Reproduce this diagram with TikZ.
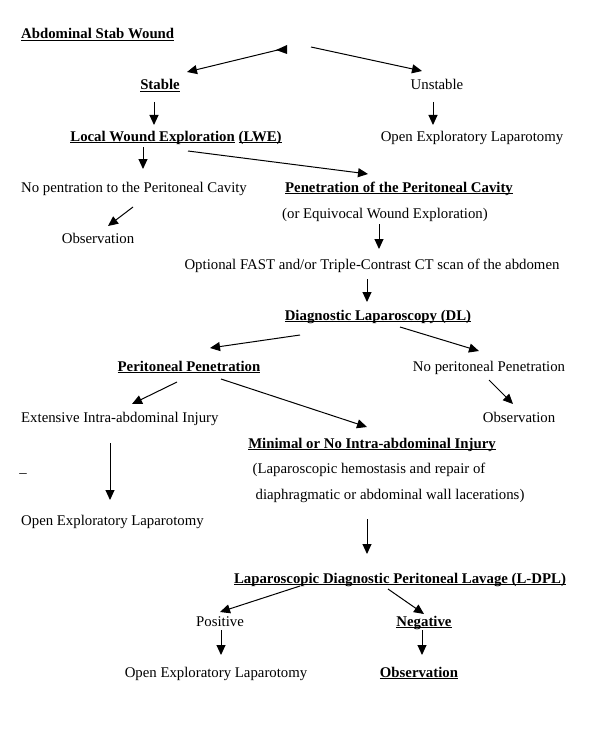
\documentclass[tikz,border=0pt]{standalone}
\usepackage{fontspec}
\setmainfont{Liberation Serif}
\usetikzlibrary{arrows.meta}
\newcommand\myul[1]{\setbox0\hbox{#1}\rlap{\rule[-2.3pt]{\wd0}{0.9pt}}\box0\relax}
\tikzset{
  txt/.style={inner sep=0pt, anchor=base, font=\fontsize{14.8}{17}\selectfont},
  ltxt/.style={txt, anchor=base west},
  btxt/.style={txt, font=\fontsize{14.8}{17}\selectfont\bfseries},
  bltxt/.style={btxt, anchor=base west},
  arr/.style={line width=1pt, -{Triangle[length=10pt,width=9pt]}},
}
\begin{document}
\begin{tikzpicture}[x=1pt,y=-1pt]
\useasboundingbox (0,0) rectangle (600,733);
% texts
\node[bltxt] (asw) at (21,39) {\myul{Abdominal Stab Wound}};
\node[btxt] (stable) at (160,90) {\myul{Stable}};
\node[txt] (unstable) at (437,90) {Unstable};
\node[btxt] (lwe) at (176,141) {\myul{Local Wound Exploration} \myul{(LWE)}};
\node[txt] (oel1) at (472,141) {Open Exploratory Laparotomy};
\node[ltxt] (nopen) at (21,192) {No pentration to the Peritoneal Cavity};
\node[btxt] (pen) at (399,192) {\myul{Penetration of the Peritoneal Cavity}};
\node[txt] (equiv) at (385,218) {(or Equivocal Wound Exploration)};
\node[txt] (obs1) at (98,243) {Observation};
\node[txt] (fast) at (372,269) {Optional FAST and/or Triple-Contrast CT scan of the abdomen};
\node[btxt] (dl) at (378,320) {\myul{Diagnostic Laparoscopy (DL)}};
\node[btxt] (ppen) at (189,371) {\myul{Peritoneal Penetration}};
\node[txt] (noppen) at (489,371) {No peritoneal Penetration};
\node[ltxt] (ext) at (21,422) {Extensive Intra-abdominal Injury};
\node[txt] (obs2) at (519,422) {Observation};
\node[btxt] (minimal) at (372,448) {\myul{Minimal or No Intra-abdominal Injury}};
\node[txt] (dash) at (23,477) {\textendash};
\node[txt] (lap1) at (369,473) {(Laparoscopic hemostasis and repair of};
\node[txt] (lap2) at (390,499) {diaphragmatic or abdominal wall lacerations)};
\node[ltxt] (oel2) at (21,525) {Open Exploratory Laparotomy};
\node[btxt] (ldpl) at (400,583) {\myul{Laparoscopic Diagnostic Peritoneal Lavage (L-DPL)}};
\node[txt] (pos) at (220,626) {Positive};
\node[btxt] (neg) at (424,626) {\myul{Negative}};
\node[txt] (oel3) at (216,677) {Open Exploratory Laparotomy};
\node[btxt] (obs3) at (419,677) {\myul{Observation}};
% connector end points
\coordinate (a1s) at (286,48);
\coordinate (a1e) at (187,72);
\coordinate (a2s) at (311,47);
\coordinate (a2e) at (422,71);
\coordinate (a3s) at (154,102);
\coordinate (a3e) at (154,125);
\coordinate (a4s) at (433,102);
\coordinate (a4e) at (433,125);
\coordinate (a5s) at (143,147);
\coordinate (a5e) at (143,169);
\coordinate (a6s) at (188,151);
\coordinate (a6e) at (368,174);
\coordinate (a7s) at (133,207);
\coordinate (a7e) at (108,226);
\coordinate (a8s) at (379,224);
\coordinate (a8e) at (379,249);
\coordinate (a9s) at (367,279);
\coordinate (a9e) at (367,302);
\coordinate (a10s) at (300,335);
\coordinate (a10e) at (210,348);
\coordinate (a11s) at (400,327);
\coordinate (a11e) at (479,351);
\coordinate (a12s) at (177,382);
\coordinate (a12e) at (132,404);
\coordinate (a13s) at (221,379);
\coordinate (a13e) at (367,427);
\coordinate (a14s) at (489,380);
\coordinate (a14e) at (513,404);
\coordinate (a15s) at (110,443);
\coordinate (a15e) at (110,500);
\coordinate (a16s) at (367,519);
\coordinate (a16e) at (367,554);
\coordinate (a17s) at (300,586);
\coordinate (a17e) at (220,612);
\coordinate (a18s) at (388,589);
\coordinate (a18e) at (424,614);
\coordinate (a19s) at (221,630);
\coordinate (a19e) at (221,655);
\coordinate (a20s) at (422,630);
\coordinate (a20e) at (422,655);
% connectors
\draw[arr] (a1s) -- (a1e);
\fill (276,50) -- (287,45) -- (287,54) -- cycle;
\draw[arr] (a2s) -- (a2e);
\draw[arr] (a3s) -- (a3e);
\draw[arr] (a4s) -- (a4e);
\draw[arr] (a5s) -- (a5e);
\draw[arr] (a6s) -- (a6e);
\draw[arr] (a7s) -- (a7e);
\draw[arr] (a8s) -- (a8e);
\draw[arr] (a9s) -- (a9e);
\draw[arr] (a10s) -- (a10e);
\draw[arr] (a11s) -- (a11e);
\draw[arr] (a12s) -- (a12e);
\draw[arr] (a13s) -- (a13e);
\draw[arr] (a14s) -- (a14e);
\draw[arr] (a15s) -- (a15e);
\draw[arr] (a16s) -- (a16e);
\draw[arr] (a17s) -- (a17e);
\draw[arr] (a18s) -- (a18e);
\draw[arr] (a19s) -- (a19e);
\draw[arr] (a20s) -- (a20e);
\end{tikzpicture}
\end{document}
